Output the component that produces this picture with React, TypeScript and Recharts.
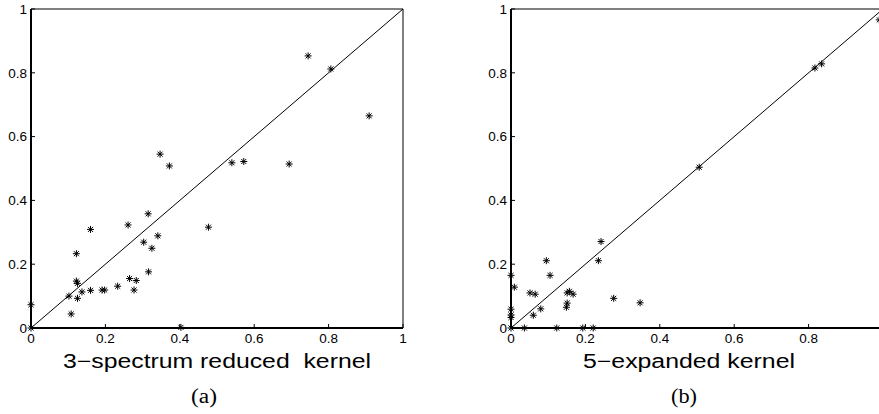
import React from "react";
import {
  ScatterChart,
  Scatter,
  XAxis,
  YAxis,
  ReferenceLine,
} from "recharts";

// panel (a): 3-spectrum reduced kernel
const leftX = [
  0.745, 0.806, 0.909, 0.347, 0.372, 0.54, 0.572, 0.694, 0, 0, 0.16, 0.122,
  0.122, 0.125, 0.125, 0.102, 0.108, 0.137, 0.16, 0.191, 0.198, 0.233, 0.261,
  0.265, 0.283, 0.277, 0.303, 0.315, 0.325, 0.316, 0.341, 0.403, 0.477,
];
const leftY = [
  0.853, 0.812, 0.665, 0.545, 0.508, 0.518, 0.522, 0.514, 0.073, 0, 0.309,
  0.233, 0.147, 0.14, 0.093, 0.1, 0.044, 0.113, 0.118, 0.119, 0.119, 0.131,
  0.323, 0.155, 0.149, 0.119, 0.269, 0.358, 0.25, 0.176, 0.289, 0.002, 0.316,
];

// panel (b): 5-expanded kernel
const rightX = [
  0.817, 0.835, 0.506, 0.99, 0, 0.009, 0, 0, 0, 0, 0.036, 0.051, 0.065, 0.06,
  0.08, 0.095, 0.105, 0.123, 0.151, 0.157, 0.167, 0.151, 0.149, 0.193, 0.221,
  0.235, 0.242, 0.276, 0.347,
];
const rightY = [
  0.815, 0.828, 0.504, 0.966, 0.165, 0.128, 0.059, 0.041, 0.033, 0, 0, 0.11,
  0.106, 0.04, 0.06, 0.211, 0.165, 0, 0.11, 0.115, 0.106, 0.078, 0.065, 0, 0,
  0.211, 0.271, 0.093, 0.079,
];

const ticks = [0, 0.2, 0.4, 0.6, 0.8, 1];
const leftTickLabels = ["0", "0.2", "0.4", "0.6", "0.8", "1"];
// the "1" of panel (b) falls past the page edge
const rightTickLabels = ["0", "0.2", "0.4", "0.6", "0.8", ""];

const FONT = "'Liberation Sans', Arial, Helvetica, sans-serif";
const SERIF = "'Liberation Serif', 'DejaVu Serif', serif";
const tickStyle = { fontSize: 13.5, fill: "#000", fontFamily: FONT };

function Asterisk(props: any) {
  const { cx, cy } = props;
  if (cx == null || cy == null) return null;
  const r = 3.5;
  const d = r * 0.72;
  return (
    <g stroke="#000" strokeWidth={1}>
      <line x1={cx - r} y1={cy} x2={cx + r} y2={cy} />
      <line x1={cx} y1={cy - r} x2={cx} y2={cy + r} />
      <line x1={cx - d} y1={cy - d} x2={cx + d} y2={cy + d} />
      <line x1={cx - d} y1={cy + d} x2={cx + d} y2={cy - d} />
    </g>
  );
}

function Panel({
  xs,
  ys,
  xLabels,
}: {
  xs: number[];
  ys: number[];
  xLabels: string[];
}) {
  const data = xs.map((x, i) => ({ x, y: ys[i] }));
  return (
    <ScatterChart
      width={440}
      height={348}
      margin={{ top: 0, right: 0, bottom: 0, left: 0 }}
    >
      <XAxis
        xAxisId="b"
        dataKey="x"
        type="number"
        domain={[0, 1]}
        ticks={ticks}
        tickFormatter={(v: number) => xLabels[ticks.indexOf(v)] ?? ""}
        height={20}
        tickSize={-4}
        tickMargin={9}
        tick={tickStyle}
        stroke="#000"
        axisLine={{ stroke: "#000", strokeWidth: 1.8 }}
        tickLine={{ stroke: "#000" }}
        interval={0}
      />
      <XAxis
        xAxisId="t"
        orientation="top"
        type="number"
        domain={[0, 1]}
        ticks={ticks}
        height={9}
        tickSize={-4}
        tick={false}
        stroke="#000"
        interval={0}
      />
      <YAxis
        yAxisId="l"
        dataKey="y"
        type="number"
        domain={[0, 1]}
        ticks={ticks}
        tickFormatter={(v: number) => leftTickLabels[ticks.indexOf(v)] ?? ""}
        width={31}
        tickSize={-4}
        tickMargin={8}
        tick={tickStyle}
        stroke="#000"
        axisLine={{ stroke: "#000", strokeWidth: 2 }}
        interval={0}
      />
      <YAxis
        yAxisId="r"
        orientation="right"
        type="number"
        domain={[0, 1]}
        ticks={ticks}
        width={37}
        tickSize={-4}
        tick={false}
        stroke="#000"
        interval={0}
      />
      <ReferenceLine
        xAxisId="b"
        yAxisId="l"
        segment={[
          { x: 0, y: 0 },
          { x: 1, y: 1 },
        ]}
        stroke="#000"
        strokeWidth={1}
      />
      <Scatter
        xAxisId="b"
        yAxisId="l"
        data={data}
        shape={Asterisk}
        isAnimationActive={false}
      />
    </ScatterChart>
  );
}

export default function App() {
  return (
    <div
      style={{
        position: "absolute",
        left: 0,
        top: 0,
        width: 879,
        height: 414,
        overflow: "hidden",
        background: "#fff",
      }}
    >
      <div style={{ position: "absolute", left: 0, top: 0 }}>
        <Panel xs={leftX} ys={leftY} xLabels={leftTickLabels} />
      </div>
      <div style={{ position: "absolute", left: 480, top: 0 }}>
        <Panel xs={rightX} ys={rightY} xLabels={rightTickLabels} />
      </div>
      <svg
        width={879}
        height={414}
        style={{ position: "absolute", left: 0, top: 0, pointerEvents: "none" }}
      >
        <text
          x={217}
          y={368}
          textAnchor="middle"
          fontSize={20}
          fontFamily={FONT}
          textLength={308}
          lengthAdjust="spacingAndGlyphs"
          style={{ whiteSpace: "pre" }}
        >
          {"3\u2212spectrum reduced  kernel"}
        </text>
        <text
          x={689}
          y={368}
          textAnchor="middle"
          fontSize={20}
          fontFamily={FONT}
          textLength={212}
          lengthAdjust="spacingAndGlyphs"
        >
          {"5\u2212expanded kernel"}
        </text>
        <text
          x={204}
          y={403}
          textAnchor="middle"
          fontSize={20}
          fontFamily={SERIF}
          textLength={26}
          lengthAdjust="spacingAndGlyphs"
        >
          (a)
        </text>
        <text
          x={684}
          y={403}
          textAnchor="middle"
          fontSize={20}
          fontFamily={SERIF}
          textLength={26}
          lengthAdjust="spacingAndGlyphs"
        >
          (b)
        </text>
      </svg>
    </div>
  );
}
